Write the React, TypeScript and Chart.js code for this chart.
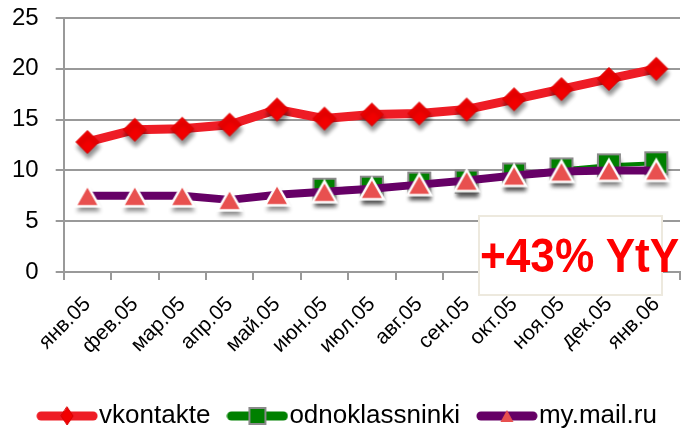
import React, { useEffect, useRef } from 'react';
import { Chart, registerables } from 'chart.js';

Chart.register(...registerables);

const categories = ['янв.05', 'фев.05', 'мар.05', 'апр.05', 'май.05', 'июн.05', 'июл.05', 'авг.05', 'сен.05', 'окт.05', 'ноя.05', 'дек.05', 'янв.06'];
const vkontakte = [12.8, 14.0, 14.1, 14.5, 16.0, 15.1, 15.5, 15.6, 16.0, 17.0, 18.0, 19.0, 20.0];
const odnoklassniki = [null, null, null, null, null, 8.1, 8.3, 8.7, 8.9, 9.6, 10.1, 10.5, 10.7];
const myMail = [7.5, 7.5, 7.5, 7.1, 7.6, 7.9, 8.2, 8.6, 9.0, 9.5, 9.9, 10.0, 10.0];
const seriesNames = ['vkontakte', 'odnoklassninki', 'my.mail.ru'];
const yTicks = [0, 5, 10, 15, 20, 25];
const annotationText = '+43% YtY';

const FONT = "'Liberation Sans', Arial, sans-serif";

type Kind = 'diamond' | 'square' | 'triangle';

function makeCanvas(w: number, h: number) {
  const c = document.createElement('canvas');
  c.width = w;
  c.height = h;
  return c;
}

function drawShape(ctx: CanvasRenderingContext2D, kind: Kind, cx: number, cy: number, small: boolean) {
  if (kind === 'diamond') {
    const hw = small ? 6 : 11.5;
    const hh = small ? 9 : 11.5;
    ctx.beginPath();
    ctx.moveTo(cx, cy - hh);
    ctx.lineTo(cx + hw, cy);
    ctx.lineTo(cx, cy + hh);
    ctx.lineTo(cx - hw, cy);
    ctx.closePath();
    ctx.fillStyle = '#f20000';
    ctx.fill();
    ctx.lineWidth = 1;
    ctx.strokeStyle = '#d80000';
    ctx.stroke();
  } else if (kind === 'square') {
    const s = small ? 16 : 22;
    ctx.fillStyle = '#008000';
    ctx.fillRect(cx - s / 2, cy - s / 2, s, s);
    ctx.shadowColor = 'transparent';
    ctx.lineWidth = 2;
    ctx.strokeStyle = '#8a8a8a';
    ctx.strokeRect(cx - s / 2, cy - s / 2, s, s);
  } else {
    const hw = small ? 6.5 : 12;
    const hh = small ? 6 : 10.5;
    ctx.beginPath();
    ctx.moveTo(cx, cy - hh);
    ctx.lineTo(cx + hw, cy + hh);
    ctx.lineTo(cx - hw, cy + hh);
    ctx.closePath();
    ctx.fillStyle = '#e8504f';
    ctx.fill();
    if (!small) {
      ctx.shadowColor = 'transparent';
      ctx.lineWidth = 2.5;
      ctx.strokeStyle = '#ffffff';
      ctx.stroke();
    }
  }
}

function dataMarker(kind: Kind) {
  const S = 46;
  const c = makeCanvas(S, S);
  const ctx = c.getContext('2d')!;
  ctx.shadowColor = 'rgba(0,0,0,0.45)';
  ctx.shadowBlur = 4;
  ctx.shadowOffsetX = 1;
  ctx.shadowOffsetY = 5;
  drawShape(ctx, kind, S / 2, S / 2, false);
  return c;
}

function legendMarker(kind: Kind, color: string) {
  const W = 62;
  const H = 28;
  const c = makeCanvas(W, H);
  const ctx = c.getContext('2d')!;
  ctx.strokeStyle = color;
  ctx.lineWidth = 9;
  ctx.lineCap = 'round';
  ctx.beginPath();
  ctx.moveTo(5, H / 2);
  ctx.lineTo(W - 5, H / 2);
  ctx.stroke();
  drawShape(ctx, kind, W / 2, H / 2, true);
  return c;
}

const legendShift = {
  id: 'legendShift',
  afterLayout(c: any) {
    if (c.legend) {
      c.legend.left += 15;
      c.legend.right += 15;
    }
  },
};

export default function App() {
  const ref = useRef<HTMLCanvasElement | null>(null);

  useEffect(() => {
    if (!ref.current) return;
    const kinds: Kind[] = ['diamond', 'square', 'triangle'];
    const colors = ['#ee1c25', '#008000', '#660066'];
    const markers = kinds.map((k) => dataMarker(k));
    const legendImgs = kinds.map((k, i) => legendMarker(k, colors[i]));

    const chart = new Chart(ref.current, {
      type: 'line',
      plugins: [legendShift],
      data: {
        labels: categories,
        datasets: [
          {
            label: seriesNames[0],
            data: vkontakte,
            borderColor: colors[0],
            borderWidth: 9,
            borderJoinStyle: 'round',
            borderCapStyle: 'round',
            pointStyle: markers[0],
            pointRadius: 12,
            order: 0,
          },
          {
            label: seriesNames[1],
            data: odnoklassniki,
            borderColor: colors[1],
            borderWidth: 4,
            borderJoinStyle: 'round',
            pointStyle: markers[1],
            pointRadius: 12,
            order: 2,
          },
          {
            label: seriesNames[2],
            data: myMail,
            borderColor: colors[2],
            borderWidth: 8,
            borderJoinStyle: 'round',
            borderCapStyle: 'round',
            pointStyle: markers[2],
            pointRadius: 12,
            order: 1,
          },
        ] as any,
      },
      options: {
        responsive: false,
        animation: false,
        devicePixelRatio: 1,
        layout: { autoPadding: false, padding: { left: -5, right: 3, top: 18, bottom: -9 } },
        scales: {
          x: {
            type: 'category',
            offset: true,
            afterFit: (s: any) => {
              s.paddingLeft = 0;
              s.paddingRight = 0;
              s.height = 103;
            },
            grid: {
              display: true,
              drawOnChartArea: false,
              drawTicks: true,
              tickLength: 8,
              offset: true,
              color: '#999999',
              lineWidth: 2,
            },
            border: { display: true, color: '#999999', width: 2 },
            ticks: {
              autoSkip: false,
              minRotation: 45,
              maxRotation: 45,
              padding: 12,
              color: '#000000',
              font: { size: 21, family: FONT },
            },
          },
          y: {
            min: yTicks[0],
            max: yTicks[yTicks.length - 1],
            afterFit: (s: any) => {
              s.paddingTop = 0;
              s.paddingBottom = 0;
            },
            grid: { color: '#999999', lineWidth: 2, tickLength: 8, drawTicks: true },
            border: { display: true, color: '#999999', width: 2 },
            ticks: {
              stepSize: yTicks[1] - yTicks[0],
              padding: 17,
              color: '#000000',
              font: { size: 24, family: FONT },
            },
          },
        },
        plugins: {
          tooltip: { enabled: false },
          legend: {
            position: 'bottom',
            labels: {
              usePointStyle: true,
              pointStyleWidth: 38,
              padding: 28,
              color: '#000000',
              font: { size: 26, family: FONT },
              generateLabels: (c: any) =>
                c.data.datasets.map((ds: any, i: number) => ({
                  text: ds.label,
                  pointStyle: legendImgs[i],
                  fillStyle: 'transparent',
                  strokeStyle: 'transparent',
                  lineWidth: 0,
                  hidden: false,
                  datasetIndex: i,
                  fontColor: '#000000',
                })),
            },
          },
        },
      } as any,
    });
    return () => chart.destroy();
  }, []);

  return (
    <div style={{ position: 'fixed', left: 0, top: 0, width: 683, height: 430, background: '#ffffff', overflow: 'hidden' }}>
      <canvas ref={ref} width={683} height={430} style={{ width: 683, height: 430, display: 'block' }} />
      <div
        style={{
          position: 'absolute',
          left: 478,
          top: 215,
          width: 181,
          height: 77,
          border: '2px solid #ede9de',
          background: '#ffffff',
        }}
      />
      <div
        style={{
          position: 'absolute',
          left: 480,
          top: 232,
          fontFamily: FONT,
          fontWeight: 'bold',
          fontSize: 48,
          lineHeight: '48px',
          color: '#ff0000',
          whiteSpace: 'nowrap',
          transform: 'scaleX(0.92)',
          transformOrigin: 'left top',
        }}
      >
        {annotationText}
      </div>
    </div>
  );
}
